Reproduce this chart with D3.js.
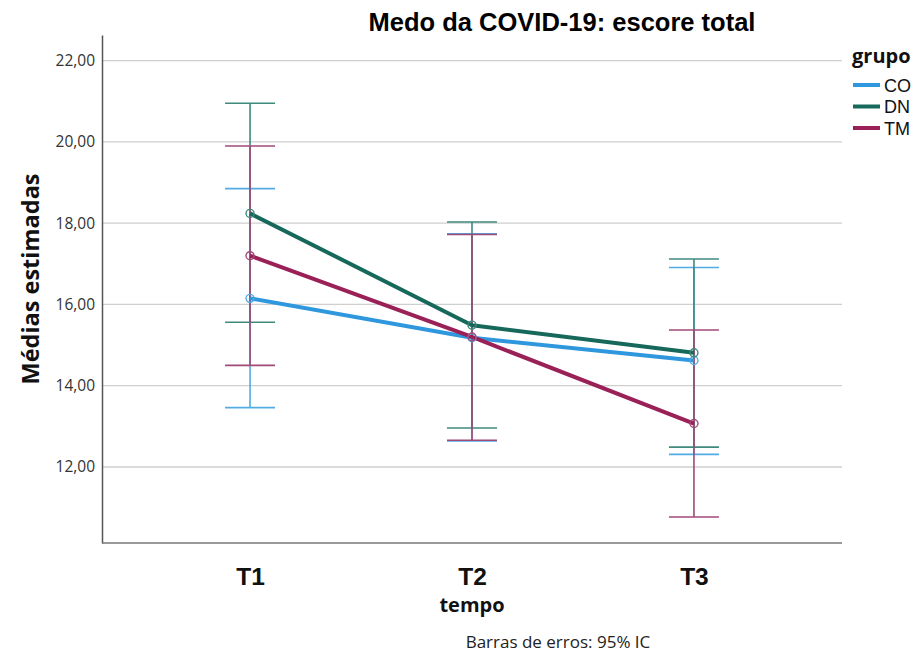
<!DOCTYPE html>
<html>
<head>
<meta charset="utf-8">
<script src="https://cdn.jsdelivr.net/npm/d3@7"></script>
<style>
  body { margin: 0; background: #fff; }
  svg { display: block; }
</style>
</head>
<body>
<svg id="chart" width="920" height="655"></svg>
<script>
// ---- data ----
const categories = ["T1", "T2", "T3"];
const groups = ["CO", "DN", "TM"];
const meanCO = [16.15, 15.18, 14.62];
const meanDN = [18.24, 15.49, 14.81];
const meanTM = [17.20, 15.20, 13.07];
const lowCO = [13.46, 12.64, 12.31];
const highCO = [18.85, 17.74, 16.91];
const lowDN = [15.56, 12.96, 12.49];
const highDN = [20.95, 18.03, 17.12];
const lowTM = [14.50, 12.66, 10.77];
const highTM = [19.90, 17.72, 15.37];
const yTicks = [12, 14, 16, 18, 20, 22];

const lineColors = { CO: "#2f97dd", DN: "#16685a", TM: "#9a2157" };
const barColors = { CO: "#52abe3", DN: "#3d8a7d", TM: "#a04a78" };

const series = [
  { name: "CO", mean: meanCO, low: lowCO, high: highCO },
  { name: "DN", mean: meanDN, low: lowDN, high: highDN },
  { name: "TM", mean: meanTM, low: lowTM, high: highTM }
];

const svg = d3.select("#chart");
const plotLeft = 102, plotRight = 842, plotTop = 35, plotBottom = 543;

const x = d3.scalePoint().domain(categories).range([plotLeft, plotRight]).padding(0.667);
const y = d3.scaleLinear().domain([10.13, 22.63]).range([plotBottom, plotTop]);

// gridlines
svg.append("g").selectAll("line").data(yTicks).join("line")
  .attr("x1", plotLeft).attr("x2", plotRight)
  .attr("y1", d => y(d)).attr("y2", d => y(d))
  .attr("stroke", "#cfcfcf").attr("stroke-width", 1.3);

// y axis
const yAxis = d3.axisLeft(y).tickValues(yTicks)
  .tickFormat(d => d3.format(".2f")(d).replace(".", ","))
  .tickSize(0).tickPadding(7);
const gy = svg.append("g").attr("transform", `translate(${plotLeft},0)`).call(yAxis);
gy.select(".domain").attr("stroke", "#555").attr("stroke-width", 1.5);
gy.selectAll("text").attr("font-family", "'Open Sans', sans-serif")
  .attr("font-size", 15.5).attr("fill", "#333");

// x axis
const xAxis = d3.axisBottom(x).tickSize(0).tickPadding(25);
const gx = svg.append("g").attr("transform", `translate(0,${plotBottom})`).call(xAxis);
gx.select(".domain").attr("stroke", "#777").attr("stroke-width", 1.5)
  .attr("d", `M${plotLeft},0H${plotRight}`);
gx.selectAll("text").attr("font-family", "'Liberation Sans', Arial, sans-serif")
  .attr("font-weight", "bold").attr("font-size", 24.5).attr("fill", "#111");

// error bars
const capHalf = 25;
series.forEach(s => {
  const g = svg.append("g");
  const c = barColors[s.name];
  categories.forEach((cat, i) => {
    const cx = x(cat);
    g.append("line").attr("x1", cx).attr("x2", cx)
      .attr("y1", y(s.low[i])).attr("y2", y(s.high[i]))
      .attr("stroke", c).attr("stroke-width", 1.6);
    [s.low[i], s.high[i]].forEach(v => {
      g.append("line").attr("x1", cx - capHalf).attr("x2", cx + capHalf)
        .attr("y1", y(v)).attr("y2", y(v))
        .attr("stroke", c).attr("stroke-width", 1.6);
    });
  });
});

// lines
const line = d3.line().x((d, i) => x(categories[i])).y(d => y(d));
series.forEach(s => {
  svg.append("path").datum(s.mean).attr("d", line)
    .attr("fill", "none").attr("stroke", lineColors[s.name])
    .attr("stroke-width", 4).attr("stroke-linejoin", "round");
});

// markers
series.forEach(s => {
  svg.append("g").selectAll("circle").data(s.mean).join("circle")
    .attr("cx", (d, i) => x(categories[i])).attr("cy", d => y(d))
    .attr("r", 4).attr("fill", "none")
    .attr("stroke", barColors[s.name]).attr("stroke-width", 1.4);
});

// title
svg.append("text").attr("x", 562).attr("y", 31).attr("text-anchor", "middle")
  .attr("font-family", "'Liberation Sans', Arial, sans-serif")
  .attr("font-weight", "bold").attr("font-size", 25.5).attr("fill", "#000")
  .text("Medo da COVID-19: escore total");

// y label
svg.append("text").attr("transform", "translate(39,279) rotate(-90)")
  .attr("text-anchor", "middle")
  .attr("font-family", "'Open Sans', sans-serif")
  .attr("font-weight", "bold").attr("font-size", 23.5).attr("fill", "#111")
  .text("Médias estimadas");

// x label
svg.append("text").attr("x", 472).attr("y", 612).attr("text-anchor", "middle")
  .attr("font-family", "'Open Sans', sans-serif")
  .attr("font-weight", "bold").attr("font-size", 20).attr("fill", "#111")
  .text("tempo");

// footnote
svg.append("text").attr("x", 558).attr("y", 648).attr("text-anchor", "middle")
  .attr("font-family", "'Open Sans', sans-serif")
  .attr("font-size", 17).attr("fill", "#222")
  .text("Barras de erros: 95% IC");

// legend
svg.append("text").attr("x", 852).attr("y", 63)
  .attr("font-family", "'Open Sans', sans-serif")
  .attr("font-weight", "bold").attr("font-size", 20).attr("fill", "#111")
  .text("grupo");
const lg = svg.append("g").selectAll("g").data(groups).join("g")
  .attr("transform", (d, i) => `translate(853,${85 + i * 21.5})`);
lg.append("line").attr("x1", 0).attr("x2", 27).attr("y1", 0).attr("y2", 0)
  .attr("stroke", d => lineColors[d]).attr("stroke-width", 4);
lg.append("text").attr("x", 31).attr("y", 6.5)
  .attr("font-family", "'Liberation Sans', Arial, sans-serif")
  .attr("font-size", 18).attr("fill", "#111")
  .text(d => d);
</script>
</body>
</html>
